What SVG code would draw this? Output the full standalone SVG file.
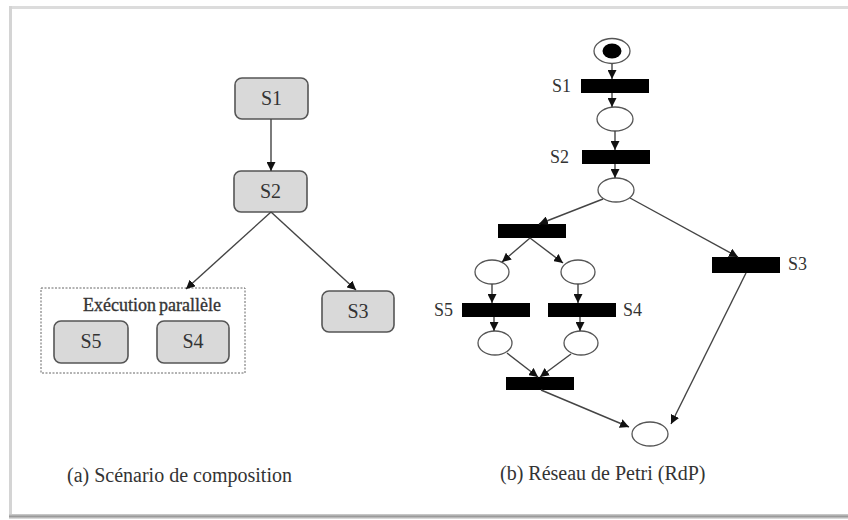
<svg xmlns="http://www.w3.org/2000/svg" width="848" height="520" viewBox="0 0 848 520">
  <defs>
    <marker id="arrow" viewBox="0 0 10 10" refX="10" refY="5" markerWidth="9" markerHeight="9" markerUnits="userSpaceOnUse" orient="auto">
      <path d="M0,0 L10,5 L0,10 z" fill="#111"/>
    </marker>
    <linearGradient id="shadowBottom" x1="0" y1="0" x2="0" y2="1">
      <stop offset="0" stop-color="#d0d0d0"/>
      <stop offset="0.5" stop-color="#9a9a9a"/>
      <stop offset="1" stop-color="#e8e8e8"/>
    </linearGradient>
  </defs>
  <style>
    .box { fill: #d9d9d9; stroke: #555; stroke-width: 1.6; }
    .lbl { font-family: "Liberation Serif", "Times New Roman", serif; fill: #333; }
    .node-lbl { font-size: 20px; text-anchor: middle; }
    .pn-lbl { font-size: 18px; }
    .caption { font-size: 20px; }
    .edge { fill: none; stroke: #444; stroke-width: 1.4; marker-end: url(#arrow); }
    .place { fill: #fff; stroke: #555; stroke-width: 1.3; }
    .trans { fill: #000; }
  </style>

  <!-- page frame with soft shadow -->
  <rect x="0" y="0" width="848" height="520" fill="#fff"/>
  <rect x="9" y="6" width="850" height="3" fill="#dcdcdc"/>
  <rect x="9" y="6" width="3" height="512" fill="#d4d4d4"/>
  <rect x="9" y="514" width="850" height="5" fill="url(#shadowBottom)"/>
  <rect x="12" y="9" width="840" height="505" fill="#fff"/>

  <!-- (a) composition scenario -->
  <g id="parallel-group">
    <rect x="41" y="288" width="204" height="85" fill="none" stroke="#666" stroke-width="1" stroke-dasharray="2,1.5"/>
    <text class="lbl" x="83" y="311" font-size="18" word-spacing="-1.5" fill="#3a3a3a" stroke="#3a3a3a" stroke-width="0.35">Exécution parallèle</text>
  </g>
  <g id="s1">
    <rect class="box" x="235" y="78" width="73" height="41" rx="7"/>
    <text class="lbl node-lbl" x="271.5" y="105">S1</text>
  </g>
  <g id="s2">
    <rect class="box" x="234" y="171" width="73" height="41" rx="7"/>
    <text class="lbl node-lbl" x="270.5" y="198">S2</text>
  </g>
  <g id="s3">
    <rect class="box" x="322" y="291" width="72" height="41" rx="7"/>
    <text class="lbl node-lbl" x="358" y="318">S3</text>
  </g>
  <g id="s5">
    <rect class="box" x="54" y="321" width="74" height="42" rx="7"/>
    <text class="lbl node-lbl" x="91" y="348">S5</text>
  </g>
  <g id="s4">
    <rect class="box" x="157" y="321" width="72" height="42" rx="7"/>
    <text class="lbl node-lbl" x="193" y="348">S4</text>
  </g>
  <g id="edges-a">
    <line class="edge" x1="271" y1="119" x2="271" y2="171"/>
    <line class="edge" x1="271" y1="212" x2="186" y2="289"/>
    <line class="edge" x1="271" y1="212" x2="356" y2="290"/>
  </g>
  <text class="lbl caption" x="67" y="482">(a) Scénario de composition</text>

  <!-- (b) Petri net -->
  <g id="p0">
    <ellipse class="place" cx="612" cy="51" rx="18" ry="12.5" stroke-width="1.8"/>
    <ellipse cx="612" cy="51" rx="9.5" ry="7.5" fill="#000"/>
  </g>
  <g id="t-s1">
    <rect class="trans" x="581" y="79" width="68" height="14"/>
    <text class="lbl pn-lbl" x="552" y="92">S1</text>
  </g>
  <g id="p1"><ellipse class="place" cx="615" cy="119" rx="18" ry="12"/></g>
  <g id="t-s2">
    <rect class="trans" x="582" y="150" width="68" height="14"/>
    <text class="lbl pn-lbl" x="550" y="163">S2</text>
  </g>
  <g id="p2"><ellipse class="place" cx="616" cy="190" rx="18" ry="12"/></g>
  <g id="t-fork"><rect class="trans" x="498" y="224" width="68" height="14"/></g>
  <g id="t-s3">
    <rect class="trans" x="712" y="257" width="68" height="16"/>
    <text class="lbl pn-lbl" x="788" y="270">S3</text>
  </g>
  <g id="p3"><ellipse class="place" cx="492" cy="272" rx="17" ry="12"/></g>
  <g id="p4"><ellipse class="place" cx="578" cy="272" rx="17" ry="12"/></g>
  <g id="t-s5">
    <rect class="trans" x="462" y="303" width="68" height="14"/>
    <text class="lbl pn-lbl" x="434" y="316">S5</text>
  </g>
  <g id="t-s4">
    <rect class="trans" x="548" y="303" width="68" height="14"/>
    <text class="lbl pn-lbl" x="623" y="316">S4</text>
  </g>
  <g id="p5"><ellipse class="place" cx="495" cy="343" rx="17" ry="12"/></g>
  <g id="p6"><ellipse class="place" cx="581" cy="343" rx="17" ry="12"/></g>
  <g id="t-join"><rect class="trans" x="506" y="377" width="68" height="13"/></g>
  <g id="p-end"><ellipse class="place" cx="650" cy="434" rx="18" ry="12"/></g>

  <g id="edges-b">
    <line class="edge" x1="612" y1="63.5" x2="612" y2="79"/>
    <line class="edge" x1="612" y1="93" x2="612" y2="107"/>
    <line class="edge" x1="615" y1="131" x2="615" y2="150"/>
    <line class="edge" x1="615" y1="164" x2="615" y2="178"/>
    <line class="edge" x1="603" y1="199" x2="539" y2="224"/>
    <line class="edge" x1="630" y1="198" x2="738" y2="257"/>
    <line class="edge" x1="530" y1="238" x2="502" y2="262"/>
    <line class="edge" x1="530" y1="238" x2="563" y2="263"/>
    <line class="edge" x1="492" y1="284" x2="492" y2="303"/>
    <line class="edge" x1="578" y1="284" x2="578" y2="303"/>
    <line class="edge" x1="494" y1="317" x2="494" y2="331"/>
    <line class="edge" x1="580" y1="317" x2="580" y2="331"/>
    <line class="edge" x1="507" y1="353" x2="538" y2="377"/>
    <line class="edge" x1="571" y1="354" x2="540" y2="377"/>
    <line class="edge" x1="541" y1="390" x2="629" y2="427"/>
    <line class="edge" x1="746" y1="273" x2="671" y2="424"/>
  </g>
  <text class="lbl caption" x="500" y="480">(b) Réseau de Petri (RdP)</text>
</svg>
